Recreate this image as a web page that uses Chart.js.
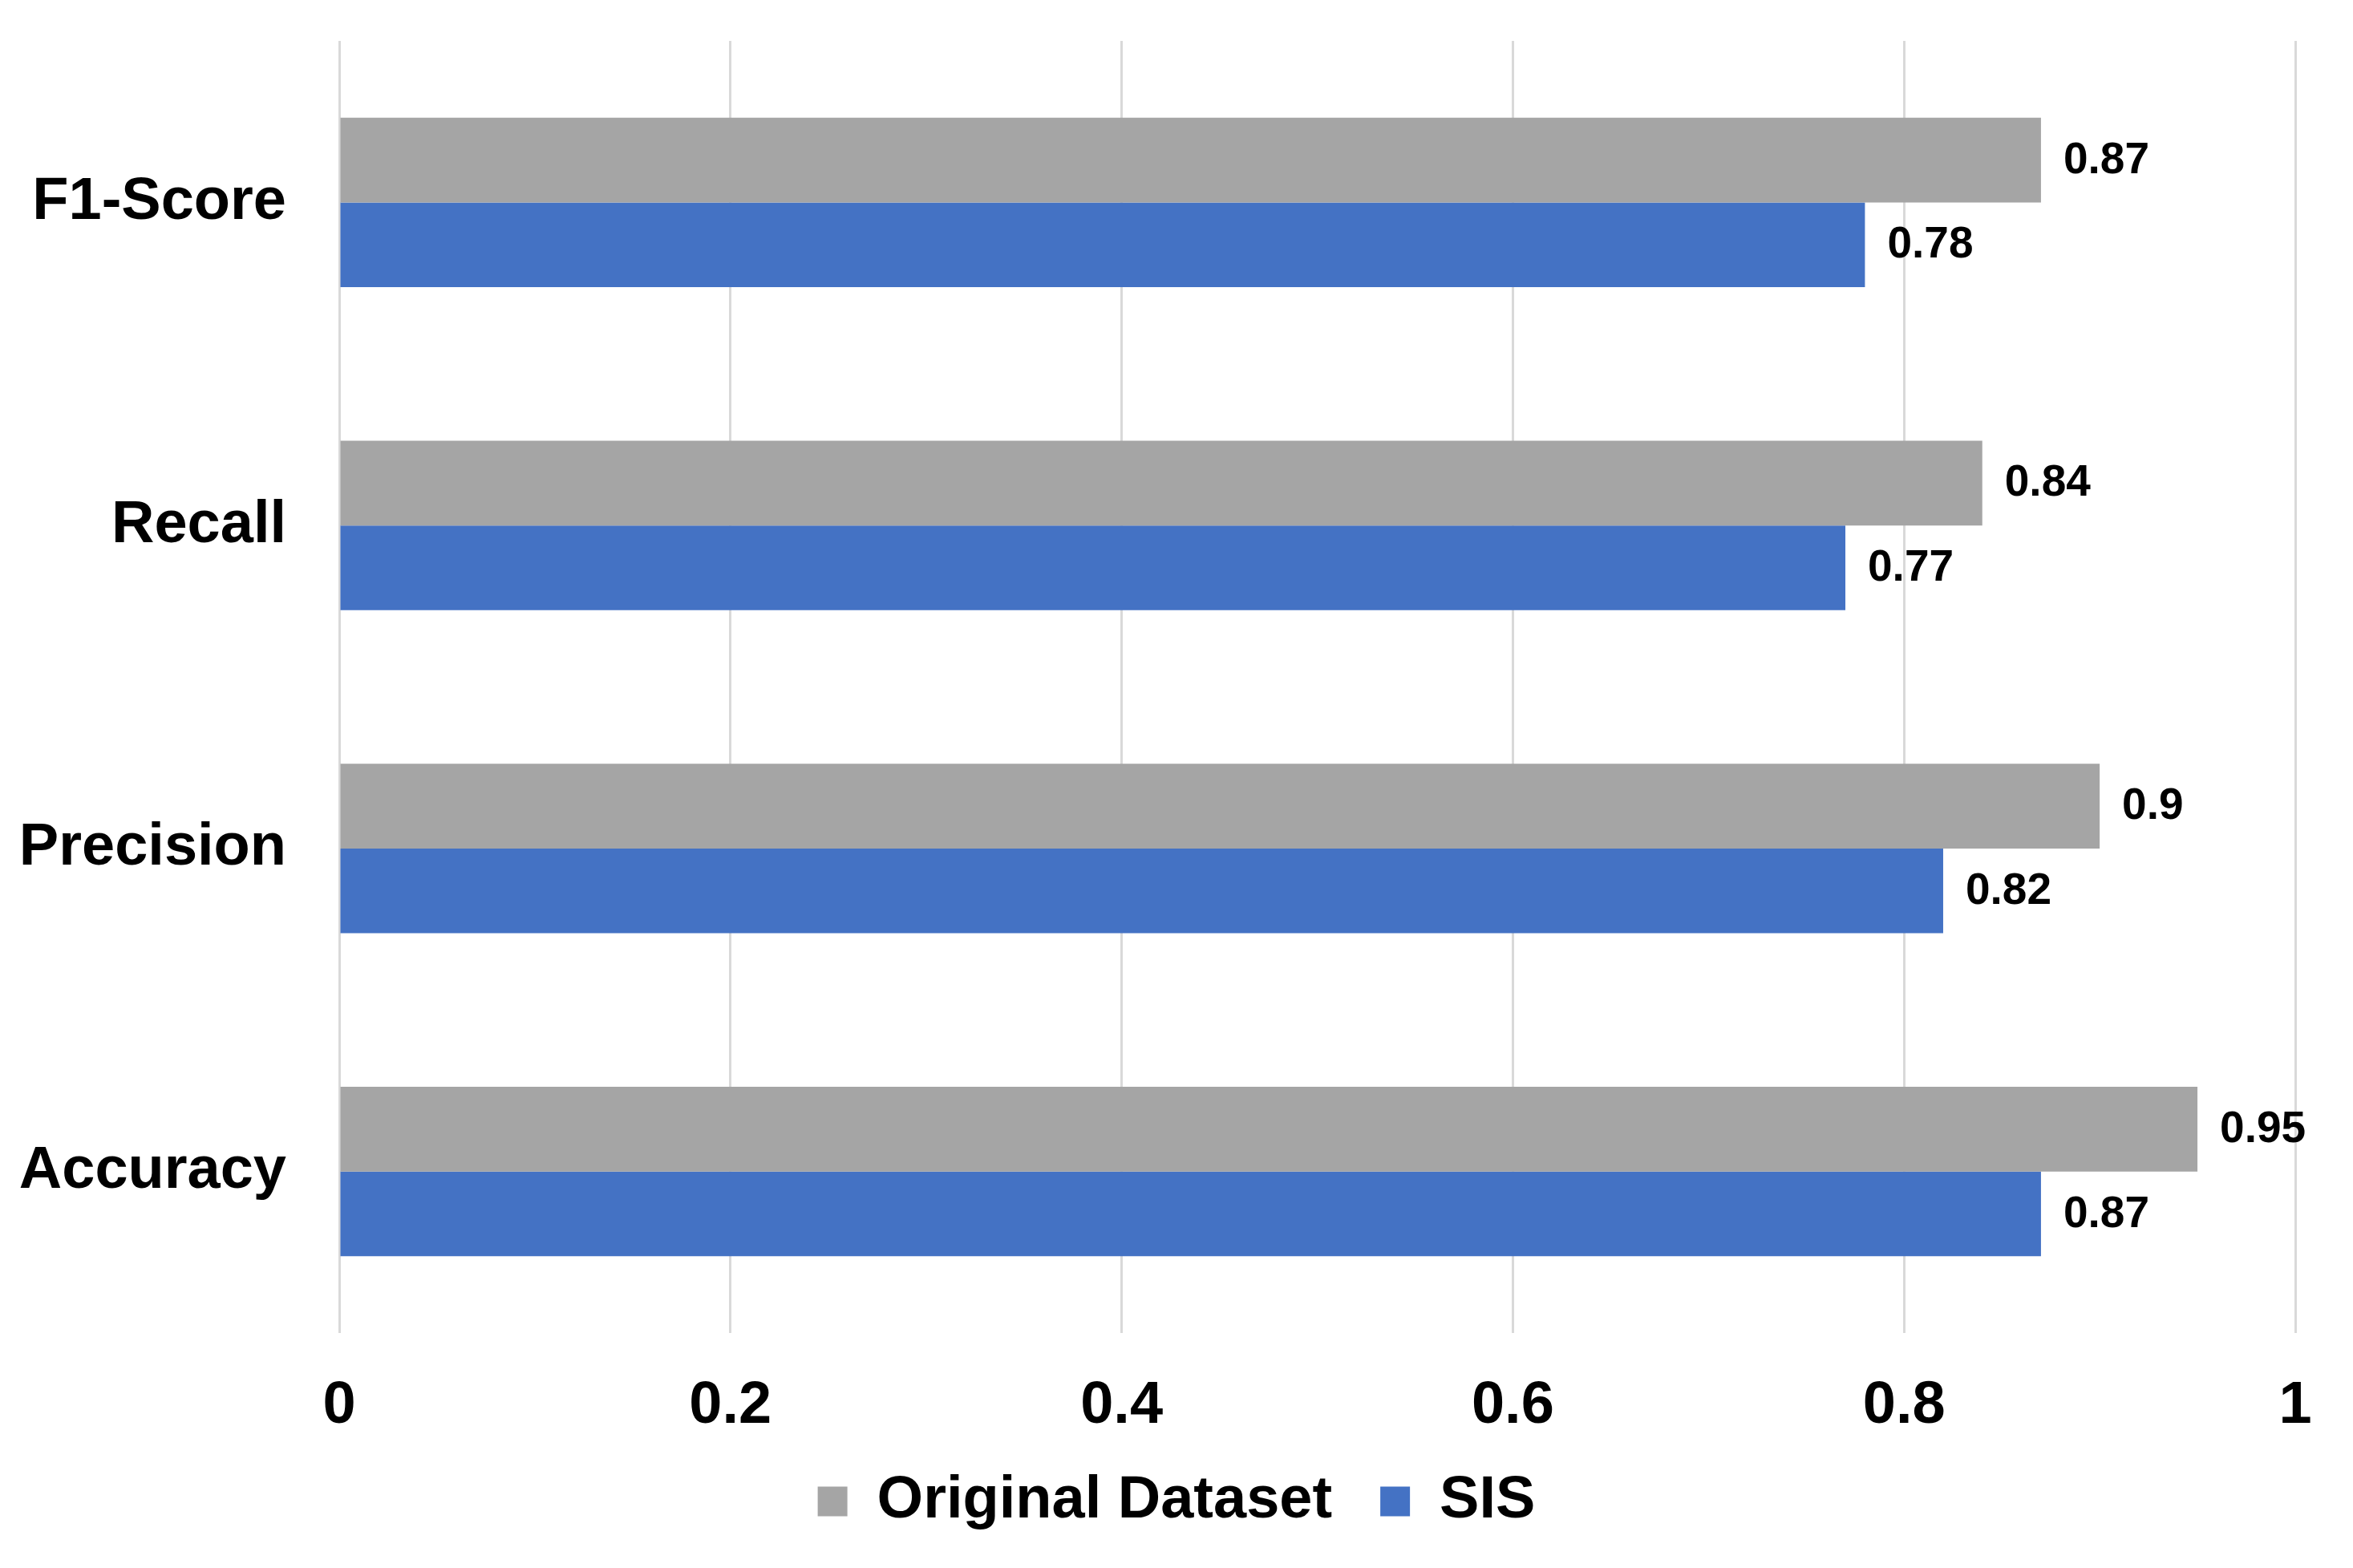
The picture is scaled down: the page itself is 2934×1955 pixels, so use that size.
<!DOCTYPE html>
<html>
<head>
<meta charset="utf-8">
<script src="https://cdn.jsdelivr.net/npm/chart.js@4.4.1/dist/chart.umd.min.js"></script>
<style>
  html, body { margin: 0; padding: 0; background: #ffffff; }
  #wrap { width: 2934px; height: 1955px; }
</style>
</head>
<body>
<div id="wrap"><canvas id="c" width="2934" height="1955"></canvas></div>
<script>
const categories = ["F1-Score", "Recall", "Precision", "Accuracy"];
const seriesNames = ["Original Dataset", "SIS"];
const originalValues = [0.87, 0.84, 0.9, 0.95];
const sisValues = [0.78, 0.77, 0.82, 0.87];
const tickValues = [0, 0.2, 0.4, 0.6, 0.8, 1];
const tickLabels = ["0", "0.2", "0.4", "0.6", "0.8", "1"];

const FONT = "'Liberation Sans', Arial, sans-serif";

const valueLabels = {
  id: 'valueLabels',
  afterDatasetsDraw(chart) {
    const ctx = chart.ctx;
    ctx.save();
    ctx.font = "bold 55px " + FONT;
    ctx.fillStyle = "#000000";
    ctx.textAlign = "left";
    ctx.textBaseline = "middle";
    chart.data.datasets.forEach((ds, di) => {
      const meta = chart.getDatasetMeta(di);
      meta.data.forEach((el, i) => {
        ctx.fillText(String(ds.data[i]), el.x + 28, el.y + 1);
      });
    });
    ctx.restore();
  }
};

new Chart(document.getElementById('c'), {
  type: 'bar',
  data: {
    labels: categories,
    datasets: [
      { label: seriesNames[0], data: originalValues, backgroundColor: '#A5A5A5', borderWidth: 0,
        categoryPercentage: 0.525, barPercentage: 1.0 },
      { label: seriesNames[1], data: sisValues, backgroundColor: '#4472C4', borderWidth: 0,
        categoryPercentage: 0.525, barPercentage: 1.0 }
    ]
  },
  options: {
    indexAxis: 'y',
    responsive: false,
    devicePixelRatio: 1,
    animation: false,
    layout: { padding: { top: 51, right: 0, bottom: 36, left: 0 } },
    scales: {
      x: {
        min: 0, max: 1,
        afterBuildTicks(scale) { scale.ticks = tickValues.map(v => ({ value: v })); },
        afterFit(scale) {
          scale.height = 113;
          scale.paddingLeft = 0;
          scale.paddingRight = 72;
        },
        grid: { color: '#D9D9D9', lineWidth: 3, drawTicks: false },
        border: { display: false },
        ticks: {
          color: '#000000',
          font: { family: FONT, size: 74, weight: 'bold' },
          padding: 47,
          maxRotation: 0,
          callback: (value, index) => tickLabels[index]
        }
      },
      y: {
        afterFit(scale) {
          scale.width = 423;
          scale.paddingTop = 0;
          scale.paddingBottom = 0;
        },
        grid: { display: false, drawTicks: false },
        border: { display: false },
        ticks: {
          color: '#000000',
          font: { family: FONT, size: 74, weight: 'bold' },
          padding: 66
        }
      }
    },
    plugins: {
      legend: {
        position: 'bottom',
        labels: {
          color: '#000000',
          font: { family: FONT, size: 74, weight: 'bold' },
          boxWidth: 37,
          boxHeight: 37,
          padding: 60
        }
      },
      tooltip: { enabled: false },
      title: { display: false }
    }
  },
  plugins: [valueLabels]
});
</script>
</body>
</html>
